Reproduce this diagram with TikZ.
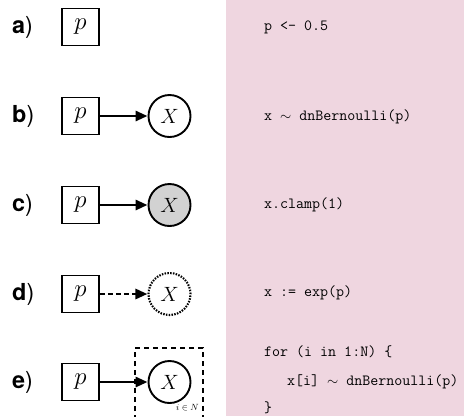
\documentclass[tikz,border=0pt]{standalone}
\usepackage{fontspec}
\newfontfamily\lblfont{TeX Gyre Heros}
\usetikzlibrary{arrows.meta}
\definecolor{codebg}{RGB}{239,214,224}
\tikzset{
  pbox/.style={draw, line width=1.5bp, minimum width=37bp, minimum height=37bp, inner sep=0pt, font=\fontsize{26}{28}\selectfont},
  rv/.style={draw, circle, line width=1.9bp, minimum size=42bp, inner sep=0pt, font=\fontsize{22.5}{25}\selectfont},
  obs/.style={rv, fill=gray!35},
  det/.style={rv, line width=2.1bp, dash pattern=on 1.5bp off 1.3bp},
  edge/.style={line width=2.8bp, -{Triangle[length=12bp,width=10bp]}},
  detedge/.style={edge, dash pattern=on 5bp off 3bp},
  lbl/.style={anchor=west, inner sep=0pt, font=\lblfont\fontsize{23.5}{26}\selectfont},
  code/.style={anchor=west, inner sep=0pt, font=\ttfamily\fontsize{15.6}{18}\selectfont},
  plate/.style={line width=1.9bp, dash pattern=on 5bp off 4bp}
}
\begin{document}
\begin{tikzpicture}[x=1bp,y=-1bp]
\useasboundingbox (0,0) rectangle (464,416);
\fill[codebg] (226,0) rectangle (464,416);
% a
\node[lbl] (la) at (12,27) {\textbf{a})};
\node[pbox] (pa) at (80.5,27) {$p$};
% b
\node[lbl] (lb) at (12,116) {\textbf{b})};
\node[pbox] (pb) at (80.5,116) {$p$};
\node[rv] (xb) at (169.5,116) {$X$};
\draw[edge] (pb) -- (xb);
% c
\node[lbl] (lc) at (12,205) {\textbf{c})};
\node[pbox] (pc) at (80.5,205) {$p$};
\node[obs] (xc) at (169.5,205) {$X$};
\draw[edge] (pc) -- (xc);
% d
\node[lbl] (ld) at (12,294) {\textbf{d})};
\node[pbox] (pd) at (80.5,294) {$p$};
\node[det] (xd) at (169.5,294) {$X$};
\draw[detedge] (pd) -- (xd);
% e
\node[lbl] (le) at (12,382) {\textbf{e})};
\node[pbox] (pe) at (80.5,382) {$p$};
\node[rv] (xe) at (169.5,382) {$X$};
\draw[edge] (pe) -- (xe);
\coordinate (pl1) at (135,420);
\coordinate (pl2) at (135,348);
\coordinate (pl3) at (203,348);
\coordinate (pl4) at (203,420);
\draw[plate] (pl1) -- (pl2) -- (pl3) -- (pl4);
\node[font=\fontsize{9}{10}\selectfont, anchor=east, inner sep=0pt] (pn) at (199,408) {$i\in N$};
% code
\node[code] (c1) at (264,27) {p <- 0.5};
\node[code] (c2) at (264,117) {x $\sim$ dnBernoulli(p)};
\node[code] (c3) at (264,205) {x.clamp(1)};
\node[code] (c4) at (264,293) {x := exp(p)};
\node[code] (c5) at (264,352) {for (i in 1:N) \{};
\node[code] (c6) at (287,382) {x[i] $\sim$ dnBernoulli(p)};
\node[code] (c7) at (264,408) {\}};
\end{tikzpicture}
\end{document}
